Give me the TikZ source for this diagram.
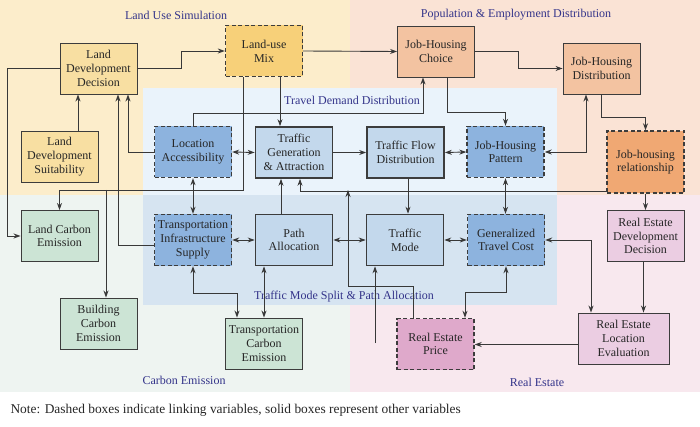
\documentclass[tikz,border=0pt]{standalone}
\usepackage{fontspec}
\setmainfont{Liberation Serif}
\usetikzlibrary{arrows.meta,calc}

\definecolor{bgland}{HTML}{FCEDCB}
\definecolor{bgpop}{HTML}{FAE3D5}
\definecolor{bgcarb}{HTML}{EEF4F1}
\definecolor{bgreal}{HTML}{F8E8EE}
\definecolor{bgdemand}{HTML}{EAF3FB}
\definecolor{bgmode}{HTML}{D6E4F1}
\definecolor{yellowbox}{HTML}{F8DFA2}
\definecolor{mixbox}{HTML}{F7D079}
\definecolor{peachbox}{HTML}{F3C3A1}
\definecolor{orangebox}{HTML}{F0A873}
\definecolor{bluebox}{HTML}{8DB3DE}
\definecolor{paleblue}{HTML}{C3D8EC}
\definecolor{greenbox}{HTML}{CCE4D5}
\definecolor{pinkbox}{HTML}{EBCDE2}
\definecolor{deeppink}{HTML}{DFA9CB}
\definecolor{boxline}{HTML}{3C3C3C}
\definecolor{lineclr}{HTML}{383838}
\definecolor{areatext}{HTML}{34348A}

\tikzset{
  box/.style={draw=boxline, line width=0.9pt, minimum width=77pt, minimum height=51pt,
    inner sep=1pt, align=center, text=black!85, font=\fontsize{12}{13.7}\selectfont},
  linkbox/.style={box, line width=1.4pt, dash pattern=on 4pt off 2.5pt},
  corebox/.style={box, line width=1.7pt},
  area/.style={text=areatext, font=\fontsize{12}{14}\selectfont},
  arr/.style={-{Stealth[length=7pt,width=5pt]}, line width=0.9pt, draw=lineclr},
  dbl/.style={{Stealth[length=7pt,width=5pt]}-{Stealth[length=7pt,width=5pt]}, line width=0.9pt, draw=lineclr}
}

\begin{document}
\begin{tikzpicture}[x=1pt, y=-1pt]
  \useasboundingbox (0,0) rectangle (700,427);
  % sub-model areas
  \fill[bgland] (0,0) rectangle (350,195);
  \fill[bgpop] (350,0) rectangle (700,195);
  \fill[bgcarb] (0,195) rectangle (350,392);
  \fill[bgreal] (350,195) rectangle (700,392);
  \fill[bgdemand] (143,88) rectangle (557,195);
  \fill[bgmode] (143,195) rectangle (557,305);

  \node[area] (landsim) at (176,15) {Land Use Simulation};
  \node[area] (popemp) at (516,15) {Population \& Employment Distribution};
  \node[area] (demand) at (352,100) {Travel Demand Distribution};
  \node[area] (carbon) at (184,380) {Carbon Emission};
  \node[area] (realest) at (537,382) {Real Estate};

  % variables
  \node[box, fill=yellowbox] (ldd) at (98.5,68.5) {Land\\Development\\Decision};
  \node[box, fill=yellowbox] (lds) at (59.5,156.5) {Land\\Development\\Suitability};
  \node[linkbox, fill=mixbox] (lum) at (264,51) {Land-use\\Mix};
  \node[box, fill=peachbox] (jhc) at (436,51.5) {Job-Housing\\Choice};
  \node[box, fill=peachbox] (jhd) at (601.5,68.5) {Job-Housing\\Distribution};
  \node[linkbox, fill=orangebox, minimum height=62pt] (jhr) at (645.5,162) {Job-housing\\relationship};

  \node[linkbox, fill=bluebox] (la) at (193,152) {Location\\Accessibility};
  \node[corebox, fill=paleblue] (tga) at (294,152.5) {Traffic\\Generation\\\& Attraction};
  \node[corebox, fill=paleblue] (tfd) at (405.5,152.5) {Traffic Flow\\Distribution};
  \node[linkbox, fill=bluebox] (jhp) at (505.5,152) {Job-Housing\\Pattern};

  \node[linkbox, fill=bluebox] (tis) at (193,240) {Transportation\\Infrastructure\\Supply};
  \node[corebox, fill=paleblue] (pa) at (294,240) {Path\\Allocation};
  \node[corebox, fill=paleblue] (tm) at (405,240) {Traffic\\Mode};
  \node[linkbox, fill=bluebox] (gtc) at (506,240) {Generalized\\Travel Cost};

  \node[box, fill=greenbox] (lce) at (59.5,236) {Land Carbon\\Emission};
  \node[box, fill=greenbox] (bce) at (98.5,323.5) {Building\\Carbon\\Emission};
  \node[box, fill=greenbox] (tce) at (264,343.5) {Transportation\\Carbon\\Emission};
  \node[linkbox, fill=deeppink] (rep) at (435.5,344) {Real Estate\\Price};
  \node[box, fill=pinkbox] (redd) at (645.5,236) {Real Estate\\Development\\Decision};
  \node[box, fill=pinkbox, minimum width=91pt] (rele) at (623.5,338.5) {Real Estate\\Location\\Evaluation};

  \node[area] (modesplit) at (344,297) {Traffic Mode Split \& Path Allocation};

  \coordinate (cbranch) at (106,190);
  \coordinate (joinpt) at (348,190);
  \coordinate (rsrc) at (375,343);

  % links
  \draw[arr] (ldd.east) -- ++(44,0) |- (lum.west);
  \draw[arr] (ldd.west) -- ++(-52,0) |- (lce.west);
  \draw[arr] ([xshift=18.5pt]lds.north) -- ([xshift=-20.5pt]ldd.south);
  \draw[arr] ([yshift=-5pt]tis.west) -| ([xshift=19.5pt]ldd.south);
  \draw[arr] (la.west) -| ([xshift=29.5pt]ldd.south);
  \draw[arr] ([xshift=-21pt]lum.south) -- ++(0,113) -| (lce.north);
  \draw[arr] (cbranch) -- ([xshift=7.5pt]bce.north);
  \draw[arr] ([xshift=16pt]lum.south) -- ([xshift=-14pt]tga.north);
  \draw[arr] (lum.east) -- (jhc.west);
  \draw[arr] (la.north) -- ++(0,-12) -| ([xshift=-13pt]jhc.south);
  \draw[arr] (jhc.east) -- ++(43,0) |- (jhd.west);
  \draw[arr] ([xshift=11pt]jhc.south) -- ++(0,35.5) -| (jhp.north);
  \draw[dbl] ([xshift=-15.5pt]jhd.south) |- (jhp.east);
  \draw[arr] (jhd.south) -- ++(0,23) -| (jhr.north);
  \draw[dbl] (la.east) -- (tga.west);
  \draw[arr] (tga.east) -- (tfd.west);
  \draw[dbl] (tfd.east) -- (jhp.west);
  \draw[dbl] (la.south) -- (tis.north);
  \draw[dbl] (jhp.south) -- (jhp.south |- gtc.north);
  \draw[arr] ([yshift=2pt]jhr.south west) -| ([xshift=6pt]tga.south);
  \draw[arr] ([xshift=2.5pt]tfd.south) -- ([xshift=3pt]tm.north);
  \draw[arr] ([xshift=-13pt]pa.north) -- ([xshift=-13pt]tga.south);
  \draw[dbl] (tis.east) -- (pa.west);
  \draw[dbl] (pa.east) -- (tm.west);
  \draw[dbl] (tm.east) -- (gtc.west);
  \draw[arr] ([xshift=-22.5pt]rep.north) -- ++(0,-31) -| (joinpt);
  \draw[arr] (rsrc) -- (rsrc |- tm.south);
  \draw[dbl] (tis.south) -- ++(0,27) -| ([xshift=-27pt]tce.north);
  \draw[dbl] ([xshift=-30pt]pa.south) -- (tce.north);
  \draw[dbl] (gtc.south) -- ++(0,26) -| ([xshift=29.5pt]rep.north);
  \draw[dbl] (gtc.east) -| ([xshift=-32.5pt]rele.north);
  \draw[arr] (jhr.south) -- (redd.north);
  \draw[arr] ([xshift=-2pt]redd.south) -- ([xshift=20pt]rele.north);
  \draw[arr] ([yshift=-6pt]rele.west) -- ([yshift=-0.5pt]rep.east);

  \node[anchor=west, text=black!85, font=\fontsize{13.4}{15}\selectfont] (note) at (7,410)
    {Note: Dashed boxes indicate linking variables, solid boxes represent other variables};
\end{tikzpicture}
\end{document}
